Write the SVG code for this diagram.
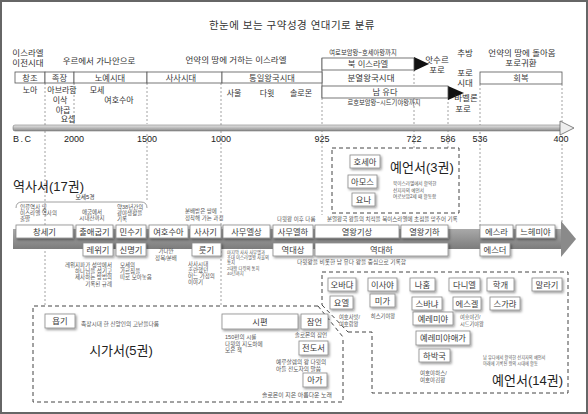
<svg xmlns="http://www.w3.org/2000/svg" width="588" height="414" viewBox="0 0 588 414">
<defs>
<filter id="sh" x="-20%" y="-30%" width="150%" height="180%">
<feDropShadow dx="1.3" dy="1.6" stdDeviation="0.9" flood-color="#000" flood-opacity="0.4"/>
</filter>
<linearGradient id="gBar" x1="0" y1="0" x2="0" y2="1">
<stop offset="0" stop-color="#e8e8e8"/><stop offset="1" stop-color="#8a8a8a"/>
</linearGradient>
<linearGradient id="gBand" x1="0" y1="0" x2="0" y2="1">
<stop offset="0" stop-color="#a9a9a9"/><stop offset="1" stop-color="#7c7c7c"/>
</linearGradient>
<style>
text{font-family:"Liberation Sans","Noto Sans CJK KR",sans-serif;fill:#333}
.t{font-size:8.5px}
.m{text-anchor:middle}
.e{text-anchor:end}
.lb{font-size:8.3px;text-anchor:middle;fill:#3a3a3a}
.nt{font-size:5.5px;fill:#555}
.num{font-size:9px;text-anchor:middle;fill:#222}
.big{font-size:13px;fill:#222}
.bx{fill:#fff;stroke:#8a8a8a;stroke-width:0.8;filter:url(#sh)}
.per{fill:#fff;stroke:#555;stroke-width:0.8}
.guide{stroke:#8a8a8a;stroke-width:0.8;stroke-dasharray:2 2;fill:none}
.dbox{stroke:#444;stroke-width:1;stroke-dasharray:4 3;fill:none}
</style>
</defs>
<rect x="1" y="1" width="586" height="412" fill="#fff" stroke="#666" stroke-width="2"/>

<text x="292" y="29" class="m" style="font-size:10.5px;letter-spacing:0.5px">한눈에 보는 구약성경 연대기로 분류</text>

<g id="connectors">
<line class="guide" x1="45" y1="83" x2="45" y2="306"/>
<line class="guide" x1="74" y1="83" x2="74" y2="124"/>
<line class="guide" x1="147" y1="83" x2="147" y2="124"/>
<line class="guide" x1="147" y1="134" x2="147" y2="201"/>
<line class="guide" x1="221" y1="83" x2="221" y2="306"/>
<line class="guide" x1="322" y1="98" x2="322" y2="215"/>
<line class="guide" x1="414" y1="70" x2="414" y2="148"/>
<line class="guide" x1="448" y1="98" x2="448" y2="148"/>
<line class="guide" x1="480" y1="84" x2="480" y2="228"/>
<line class="guide" x1="562" y1="84" x2="562" y2="228"/>
<rect x="13" y="125" width="549" height="6" rx="2" fill="url(#gBar)" stroke="#666" stroke-width="0.5"/>
<polygon points="560,121 574,128 560,135" fill="#eee" stroke="#666" stroke-width="0.8"/>
<rect x="13" y="229" width="549" height="20" fill="url(#gBand)"/>
<polygon points="561,221 576,239 561,257" fill="#8a8a8a"/>
<polygon points="414,57 429,64 414,71" fill="#111"/>
<polygon points="448,86 464,93 448,100" fill="#111"/>
<line x1="322" y1="58" x2="322" y2="98" stroke="#555" stroke-width="0.8"/>
<path d="M16,208 Q16,202 22,202 H141 Q147,202 147,208" fill="none" stroke="#888" stroke-width="0.8"/>
<rect class="dbox" x="332" y="148" width="127" height="65"/>
<path class="dbox" d="M318,306 H33 V402 H343 V337"/>
<path class="dbox" d="M348,332 H372 V393 H568 V272 H322 V305"/>
<line class="dbox" x1="318" y1="306" x2="343" y2="337" stroke-dasharray="3 3"/>
<line class="dbox" x1="322" y1="305" x2="348" y2="332" stroke-dasharray="3 3"/>
</g>

<g id="top-labels">
<text class="t m" x="28" y="56"><tspan x="28">이스라엘</tspan><tspan x="28" dy="10">이전시대</tspan></text>
<text class="t m" x="99" y="64">우르에서 가나안으로</text>
<text class="t m" x="236" y="63">언약의 땅에 거하는 이스라엘</text>
<text class="m" x="363" y="55" style="font-size:6.3px">여로보암왕~호세아왕까지</text>
<text class="t m" x="371" y="81">분열왕국시대</text>
<text class="m" x="384" y="105" style="font-size:6.3px">르호보암왕~시드기야왕까지</text>
<text class="t m" x="437" y="63"><tspan x="437">앗수르</tspan><tspan x="437" dy="10">포로</tspan></text>
<text class="t m" x="465" y="56">추방</text>
<text class="t m" x="465" y="76"><tspan x="465">포로</tspan><tspan x="465" dy="10">시대</tspan></text>
<text class="t m" x="466" y="101"><tspan x="466">바벨론</tspan><tspan x="463" dy="11">포로</tspan></text>
<text class="t m" x="522" y="56"><tspan x="522">언약의 땅에 돌아옴</tspan><tspan x="521" dy="10">포로귀환</tspan></text>
</g>

<g id="periods">
<g id="p-changjo"><rect class="per" x="15" y="72" width="30" height="11"/><text class="lb" x="30" y="80.5">창조</text></g>
<g id="p-jokjang"><rect class="per" x="45" y="72" width="29" height="11"/><text class="lb" x="59.5" y="80.5">족장</text></g>
<g id="p-noye"><rect class="per" x="74" y="72" width="73" height="11"/><text class="lb" x="110" y="80.5">노예시대</text></g>
<g id="p-sasa"><rect class="per" x="147" y="72" width="75" height="11"/><text class="lb" x="181" y="80.5">사사시대</text></g>
<g id="p-tongil"><rect class="per" x="222" y="72" width="100" height="11"/><text class="lb" x="272" y="80.5">통일왕국시대</text></g>
<g id="p-buk"><rect class="per" x="322" y="58" width="92" height="12"/><text class="lb" x="368" y="67">북 이스라엘</text></g>
<g id="p-nam"><rect class="per" x="322" y="86" width="126" height="12"/><text class="lb" x="385" y="95">남 유다</text></g>
<g id="p-hoebok"><rect class="per" x="480" y="72" width="82" height="12"/><text class="lb" x="521" y="81">회복</text></g>
</g>

<g id="people">
<text class="m" x="30" y="93" style="font-size:8px">노아</text>
<text class="m" x="62" y="93" style="font-size:8px"><tspan x="62">아브라함</tspan><tspan x="60" dy="10">이삭</tspan><tspan x="63" dy="10">야곱</tspan><tspan x="68" dy="9">요셉</tspan></text>
<text class="m" x="97" y="93" style="font-size:8px"><tspan x="97">모세</tspan><tspan x="119" dy="10">여호수아</tspan></text>
<text class="m" x="234" y="96" style="font-size:8px">사울</text>
<text class="m" x="267" y="96" style="font-size:8px">다윗</text>
<text class="m" x="301" y="96" style="font-size:8px">솔로몬</text>
</g>

<g id="years">
<text class="num" x="13" y="142" style="text-anchor:start;letter-spacing:1.5px">B.C</text>
<text class="num" x="74" y="142">2000</text>
<text class="num" x="147" y="142">1500</text>
<text class="num" x="221" y="142">1000</text>
<text class="num" x="322" y="142">925</text>
<text class="num" x="414" y="142">722</text>
<text class="num" x="448" y="142">586</text>
<text class="num" x="480" y="142">536</text>
<text class="num" x="561" y="142">400</text>
</g>

<g id="history">
<text class="big" x="13" y="191">역사서(17권)</text>
<text class="m" x="85" y="199" style="font-size:5.8px">모세5경</text>
<text class="nt" x="20" y="208.5"><tspan x="20">인류역사 및</tspan><tspan x="20" dy="6.2">이스라엘 역사의</tspan><tspan x="20" dy="6.2">출발</tspan></text>
<text class="nt m" x="92" y="214"><tspan x="92">애굽에서</tspan><tspan x="92" dy="6.3">시내산까지</tspan></text>
<text class="nt" x="117" y="208.5"><tspan x="117">약38년간의</tspan><tspan x="117" dy="6.2">광야생활을</tspan><tspan x="117" dy="6.2">기록</tspan></text>
<text class="nt" x="185" y="213"><tspan x="185">분배받은 땅에</tspan><tspan x="185" dy="7">정착해 가는 과정</tspan></text>
<text class="nt" x="277" y="221">다윗왕 이후 다룸</text>
<text class="nt" x="327" y="221">분열왕국 왕들의 치적을 북이스라엘에 초점을 맞추어 기록</text>
<text class="nt m" x="166" y="253"><tspan x="166">가나안</tspan><tspan x="166" dy="6.5">정복/분배</tspan></text>
<text class="nt e" x="112" y="267"><tspan x="112">레위지파가 성막에서</tspan><tspan x="112" dy="6.2">하나님을 섬기고</tspan><tspan x="112" dy="6.2">제사하는 방법의</tspan><tspan x="112" dy="6.2">기록된 규례</tspan></text>
<text class="nt" x="120" y="267"><tspan x="120">모세의</tspan><tspan x="120" dy="6.2">가르침을</tspan><tspan x="120" dy="6.2">따로 모아놓음</tspan></text>
<text class="nt" x="188" y="265.5"><tspan x="188">사사시대</tspan><tspan x="188" dy="6.2">혼란했던</tspan><tspan x="188" dy="6.2">어느 가정의</tspan><tspan x="188" dy="6.3">이야기</tspan></text>
<text class="nt" x="227" y="253.5" style="font-size:4.3px"><tspan x="227">마지막 사사 사무엘과</tspan><tspan x="227" dy="5.5">초대 이스라엘왕 사울의</tspan><tspan x="227" dy="5">통치</tspan><tspan x="227" dy="5.5">2대왕 다윗의 통치</tspan><tspan x="227" dy="5.5">40년까지</tspan></text>
<text class="nt" x="297" y="264" style="font-size:5.7px">다윗왕을 비롯한 남 유다 왕을 중심으로 기록함</text>
<g id="genesis"><rect class="bx" x="16" y="225" width="57" height="13"/><text class="lb" x="44.5" y="234.5">창세기</text></g>
<g id="exodus"><rect class="bx" x="76" y="225" width="37" height="13"/><text class="lb" x="94.5" y="234.5">출애굽기</text></g>
<g id="numbers"><rect class="bx" x="116" y="225" width="30" height="13"/><text class="lb" x="131" y="234.5">민수기</text></g>
<g id="joshua"><rect class="bx" x="149" y="225" width="39" height="13"/><text class="lb" x="168.5" y="234.5">여호수아</text></g>
<g id="judges"><rect class="bx" x="190" y="225" width="31" height="13"/><text class="lb" x="205.5" y="234.5">사사기</text></g>
<g id="samuel1"><rect class="bx" x="223" y="225" width="47" height="13"/><text class="lb" x="246.5" y="234.5">사무엘상</text></g>
<g id="samuel2"><rect class="bx" x="273" y="225" width="40" height="13"/><text class="lb" x="293" y="234.5">사무엘하</text></g>
<g id="kings1"><rect class="bx" x="315" y="225" width="84" height="13"/><text class="lb" x="357" y="234.5">열왕기상</text></g>
<g id="kings2"><rect class="bx" x="401" y="225" width="47" height="13"/><text class="lb" x="424.5" y="234.5">열왕기하</text></g>
<g id="ezra"><rect class="bx" x="480" y="225" width="33" height="13"/><text class="lb" x="496.5" y="234.5">에스라</text></g>
<g id="nehemiah"><rect class="bx" x="516" y="225" width="39" height="13"/><text class="lb" x="535.5" y="234.5">느헤미야</text></g>
<g id="leviticus"><rect class="bx" x="83" y="243" width="30" height="13"/><text class="lb" x="98" y="252.5">레위기</text></g>
<g id="deuteronomy"><rect class="bx" x="116" y="243" width="30" height="13"/><text class="lb" x="131" y="252.5">신명기</text></g>
<g id="ruth"><rect class="bx" x="192" y="243" width="29" height="13"/><text class="lb" x="206.5" y="252.5">룻기</text></g>
<g id="chron1"><rect class="bx" x="273" y="243" width="40" height="13"/><text class="lb" x="293" y="252.5">역대상</text></g>
<g id="chron2"><rect class="bx" x="315" y="243" width="133" height="13"/><text class="lb" x="381.5" y="252.5">역대하</text></g>
<g id="esther"><rect class="bx" x="480" y="243" width="30" height="13"/><text class="lb" x="495" y="252.5">에스더</text></g>
</g>

<g id="prophets3">
<text class="big" x="390" y="172">예언서(3권)</text>
<text class="nt" x="393" y="185" style="font-size:4.6px"><tspan x="393">북이스라엘에서 활약한</tspan><tspan x="393" dy="6.5">선지자의 예언서</tspan><tspan x="393" dy="6.5">여로보암2세 때 활동함</tspan></text>
<g id="hosea"><rect class="bx" x="350" y="155" width="30" height="13"/><text class="lb" x="365" y="164.5">호세아</text></g>
<g id="amos"><rect class="bx" x="348" y="175" width="29" height="13"/><text class="lb" x="362.5" y="184.5">아모스</text></g>
<g id="jonah"><rect class="bx" x="352" y="193" width="23" height="13"/><text class="lb" x="363.5" y="202.5">요나</text></g>
</g>

<g id="poetry">
<text class="big m" x="121" y="355">시가서(5권)</text>
<text class="nt" x="81" y="326" style="font-size:5.7px">족장시대 한 신앙인의 고난을다룸</text>
<text class="nt" x="225" y="339" style="font-size:5.6px"><tspan x="225">150편의 시를</tspan><tspan x="225" dy="6.5">다윗의 지도하에</tspan><tspan x="225" dy="6.5">모은 책</tspan></text>
<text class="nt m" x="311" y="337" style="font-size:5.6px">솔로몬의 잠언</text>
<text class="nt" x="276" y="364" style="font-size:5.7px"><tspan x="276">예루살렘의 왕 다윗의</tspan><tspan x="276" dy="6.5">아들 전도자의 말씀</tspan></text>
<text class="nt" x="262" y="397" style="font-size:5.9px">솔로몬이 지은 아름다운 노래</text>
<g id="job"><rect class="bx" x="45" y="314" width="30" height="14"/><text class="lb" x="60" y="324">욥기</text></g>
<g id="psalms"><rect class="bx" x="222" y="314" width="76" height="15"/><text class="lb" x="260" y="324.5">시편</text></g>
<g id="proverbs"><rect class="bx" x="301" y="314" width="27" height="15"/><text class="lb" x="314.5" y="324.5">잠언</text></g>
<g id="ecclesiastes"><rect class="bx" x="299" y="341" width="29" height="14"/><text class="lb" x="313.5" y="351">전도서</text></g>
<g id="song"><rect class="bx" x="303" y="373" width="24" height="14"/><text class="lb" x="315" y="383">아가</text></g>
</g>

<g id="prophets14">
<text class="big e" x="563" y="385">예언서(14권)</text>
<text class="nt" x="339" y="319" style="font-size:5.3px"><tspan x="339">여호사밧/</tspan><tspan x="339" dy="6.5">여호람왕</tspan></text>
<text class="nt m" x="383" y="318" style="font-size:5.3px">히스기야왕</text>
<text class="nt" x="460" y="319" style="font-size:5.2px"><tspan x="460">여호야긴/</tspan><tspan x="460" dy="6.5">시드기야왕</tspan></text>
<text class="nt" x="420" y="375" style="font-size:5.5px"><tspan x="420">여호야하스/</tspan><tspan x="420" dy="7">여호야김왕</tspan></text>
<text class="nt" x="483" y="359" style="font-size:4.2px"><tspan x="483">남 유다에서 활약한 선지자의 예언서</tspan><tspan x="483" dy="6">아래에 기록된 왕의 시대에 활동</tspan></text>
<g id="obadiah"><rect class="bx" x="328" y="278" width="28" height="13"/><text class="lb" x="342" y="287.5">오바댜</text></g>
<g id="joel"><rect class="bx" x="330" y="296" width="23" height="13"/><text class="lb" x="341.5" y="305.5">요엘</text></g>
<g id="isaiah"><rect class="bx" x="368" y="278" width="29" height="13"/><text class="lb" x="382.5" y="287.5">이사야</text></g>
<g id="micah"><rect class="bx" x="370" y="294" width="25" height="13"/><text class="lb" x="382.5" y="303.5">미가</text></g>
<g id="nahum"><rect class="bx" x="410" y="278" width="25" height="13"/><text class="lb" x="422.5" y="287.5">나훔</text></g>
<g id="zephaniah"><rect class="bx" x="412" y="297" width="30" height="13"/><text class="lb" x="427" y="306.5">스바냐</text></g>
<g id="jeremiah"><rect class="bx" x="413" y="312" width="40" height="13"/><text class="lb" x="433" y="321.5">예레미야</text></g>
<g id="lamentations"><rect class="bx" x="416" y="331" width="54" height="14"/><text class="lb" x="443" y="341">예레미야애가</text></g>
<g id="habakkuk"><rect class="bx" x="419" y="349" width="31" height="13"/><text class="lb" x="434.5" y="358.5">하박국</text></g>
<g id="daniel"><rect class="bx" x="449" y="278" width="31" height="13"/><text class="lb" x="464.5" y="287.5">다니엘</text></g>
<g id="ezekiel"><rect class="bx" x="453" y="297" width="28" height="13"/><text class="lb" x="467" y="306.5">에스겔</text></g>
<g id="haggai"><rect class="bx" x="487" y="278" width="27" height="13"/><text class="lb" x="500.5" y="287.5">학개</text></g>
<g id="zechariah"><rect class="bx" x="490" y="297" width="30" height="13"/><text class="lb" x="505" y="306.5">스가랴</text></g>
<g id="malachi"><rect class="bx" x="532" y="278" width="30" height="13"/><text class="lb" x="547" y="287.5">말라기</text></g>
</g>
</svg>
